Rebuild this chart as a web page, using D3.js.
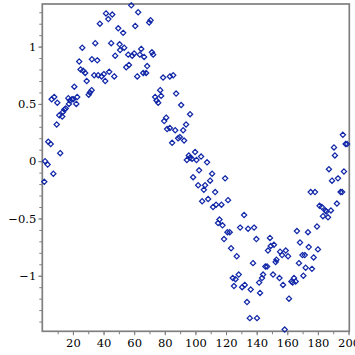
<!DOCTYPE html>
<html>
<head>
<meta charset="utf-8">
<script src="https://cdn.jsdelivr.net/npm/d3@7"></script>
<style>
body { margin: 0; background: #fff; }
.tick text { font-family: "DejaVu Serif", serif; font-size: 11.5px; fill: #000; }
.tick line { stroke: #7f7f7f; }
</style>
</head>
<body>
<div id="chart"></div>
<script>
var width = 355;
var height = 355;

var points = [
  [41.6,1.29],[45.7,1.28],[43.1,1.24],[37.6,1.20],[49.6,1.16],[34.6,1.03],[45.0,1.03],[50.5,1.02],
  [26.1,0.99],[50.8,0.97],[47.6,0.92],[24.1,0.87],[32.4,0.89],[35.9,0.88],[25.0,0.80],[26.7,0.79],
  [28.0,0.77],[43.7,0.78],[33.9,0.75],[36.5,0.75],[38.7,0.74],[40.2,0.76],[47.0,0.74],[29.0,0.70],
  [41.1,0.70],[20.9,0.65],[32.2,0.62],[31.1,0.60],[30.3,0.58],[22.8,0.56],[17.0,0.55],[19.4,0.54],
  [7.8,0.56],[6.1,0.54],[9.8,0.51],[18.1,0.53],[20.2,0.54],[17.4,0.50],[22.2,0.50],[15.3,0.46],
  [14.4,0.45],[13.5,0.43],[11.1,0.40],[13.0,0.39],[9.4,0.32],[3.9,0.17],[5.5,0.15],[11.7,0.07],
  [1.8,0.00],[3.5,-0.03],[7.2,-0.11],[1.3,-0.18],
  [58.1,1.36],[62.6,1.30],[70.7,1.23],[69.8,1.21],[60.7,1.18],[52.8,1.12],[53.5,0.99],[64.6,0.98],
  [60.0,0.94],[56.1,0.93],[58.7,0.92],[63.7,0.93],[66.5,0.91],[71.6,0.95],[72.4,0.93],[68.5,0.83],
  [56.6,0.84],[54.8,0.82],[62.0,0.74],[65.9,0.77],[67.8,0.77],[78.9,0.73],[83.3,0.74],[85.5,0.75],
  [77.0,0.62],[73.7,0.56],[77.6,0.57],[74.6,0.53],[75.7,0.51],[87.4,0.59],[90.7,0.49],[96.5,0.41],
  [80.9,0.38],
  [79.6,0.35],[93.9,0.32],[81.5,0.28],[83.3,0.29],[86.8,0.27],[92.0,0.27],[84.8,0.16],[88.7,0.20],
  [89.8,0.21],[92.6,0.18],[99.8,0.08],[95.7,0.05],[96.5,0.03],[94.4,0.01],[97.8,0.02],[100.7,0.01],
  [103.7,0.04],[107.6,-0.01],[102.4,-0.08],[110.9,-0.11],[98.5,-0.14],[109.6,-0.17],[119.4,-0.15],
  [101.8,-0.21],[106.3,-0.21],[105.5,-0.25],[112.9,-0.27],[104.4,-0.35],[108.3,-0.33],[121.3,-0.34],
  [111.5,-0.40],[113.5,-0.38],[117.0,-0.38],[115.7,-0.51],[114.8,-0.54],[117.7,-0.56],[120.9,-0.62],
  [122.4,-0.62],[118.7,-0.68],[129.2,-0.58],
  [196.3,0.23],[199.0,0.15],[198.1,0.15],[190.5,0.12],[191.1,0.05],[187.2,-0.07],[197.0,-0.09],
  [189.2,-0.17],[193.1,-0.15],[175.3,-0.27],[178.1,-0.27],[194.8,-0.27],[195.8,-0.27],[192.4,-0.37],
  [181.1,-0.39],[182.6,-0.40],[184.9,-0.43],[185.5,-0.44],[188.5,-0.43],[183.3,-0.48],[186.6,-0.49],
  [131.8,-0.47],[134.4,-0.59],[138.3,-0.58],[166.3,-0.61],[173.5,-0.62],[179.4,-0.57],[139.8,-0.68],
  [148.7,-0.67],
  [123.3,-0.76],[127.0,-0.83],[124.4,-1.02],[126.2,-1.03],[128.3,-0.99],[125.2,-1.09],
  [149.2,-0.74],[151.3,-0.73],[147.4,-0.78],[159.0,-0.78],[168.3,-0.71],[174.0,-0.75],[180.0,-0.77],
  [155.3,-0.79],[156.6,-0.82],[160.5,-0.83],[169.9,-0.82],[171.4,-0.82],[177.2,-0.84],[152.9,-0.86],
  [152.4,-0.88],[137.6,-0.89],[167.6,-0.89],[146.8,-0.92],[145.7,-0.92],[172.0,-0.93],[176.1,-0.94],
  [144.2,-0.99],[143.5,-1.02],[150.7,-0.99],[154.9,-1.02],[164.4,-1.02],[162.7,-1.05],[165.5,-1.05],
  [163.5,-1.06],[170.5,-1.00],[132.2,-1.08],[130.5,-1.10],[141.6,-1.06],[157.2,-1.08],[136.1,-1.12],
  [142.2,-1.15],[133.7,-1.23],[161.1,-1.20],[135.5,-1.37],[140.2,-1.37],[158.3,-1.47]
];

var xMajor = [20, 40, 60, 80, 100, 120, 140, 160, 180, 200];
var xMinor = d3.range(10, 201, 10);
var yMajor = [-1, -0.5, 0, 0.5, 1];
var yMinor = d3.range(-14, 14).map(function(d) { return d / 10; });

var svg = d3.select("#chart")
  .append("svg")
  .attr("width", width)
  .attr("height", height);

var plotLeft = 42.3, plotRight = 349.3, plotTop = 4, plotBottom = 331.3;

var x = d3.scaleLinear().domain([0, 200.5]).range([plotLeft, plotRight]);
var y = d3.scaleLinear().domain([-1.485, 1.372]).range([plotBottom, plotTop]);

// minor ticks
svg.append("g")
  .attr("transform", "translate(0," + plotBottom + ")")
  .call(d3.axisBottom(x).tickValues(xMinor).tickSize(3).tickFormat(""))
  .call(function(g) { g.select(".domain").remove(); });
svg.append("g")
  .attr("transform", "translate(" + plotLeft + ",0)")
  .call(d3.axisLeft(y).tickValues(yMinor).tickSize(3).tickFormat(""))
  .call(function(g) { g.select(".domain").remove(); });

// major ticks with labels
svg.append("g")
  .attr("transform", "translate(0," + plotBottom + ")")
  .call(d3.axisBottom(x).tickValues(xMajor).tickSize(4).tickPadding(3.5).tickFormat(d3.format("d")))
  .call(function(g) { g.select(".domain").remove(); });
svg.append("g")
  .attr("transform", "translate(" + plotLeft + ",0)")
  .call(d3.axisLeft(y).tickValues(yMajor).tickSize(4).tickPadding(2).tickFormat(d3.format("")))
  .call(function(g) { g.select(".domain").remove(); });

// frame
svg.append("rect")
  .attr("x", plotLeft)
  .attr("y", plotTop)
  .attr("width", plotRight - plotLeft)
  .attr("height", plotBottom - plotTop)
  .attr("fill", "none")
  .attr("stroke", "#7f7f7f")
  .attr("stroke-width", 1.7);

// diamond markers
var r = 2.6;
svg.append("g")
  .selectAll("path")
  .data(points)
  .enter().append("path")
    .attr("d", function(d) {
      var cx = x(d[0]), cy = y(d[1]);
      return "M" + cx + "," + (cy - r) + "L" + (cx + r) + "," + cy +
             "L" + cx + "," + (cy + r) + "L" + (cx - r) + "," + cy + "Z";
    })
    .attr("fill", "none")
    .attr("stroke", "#1228a8")
    .attr("stroke-width", 1.25);
</script>
</body>
</html>
